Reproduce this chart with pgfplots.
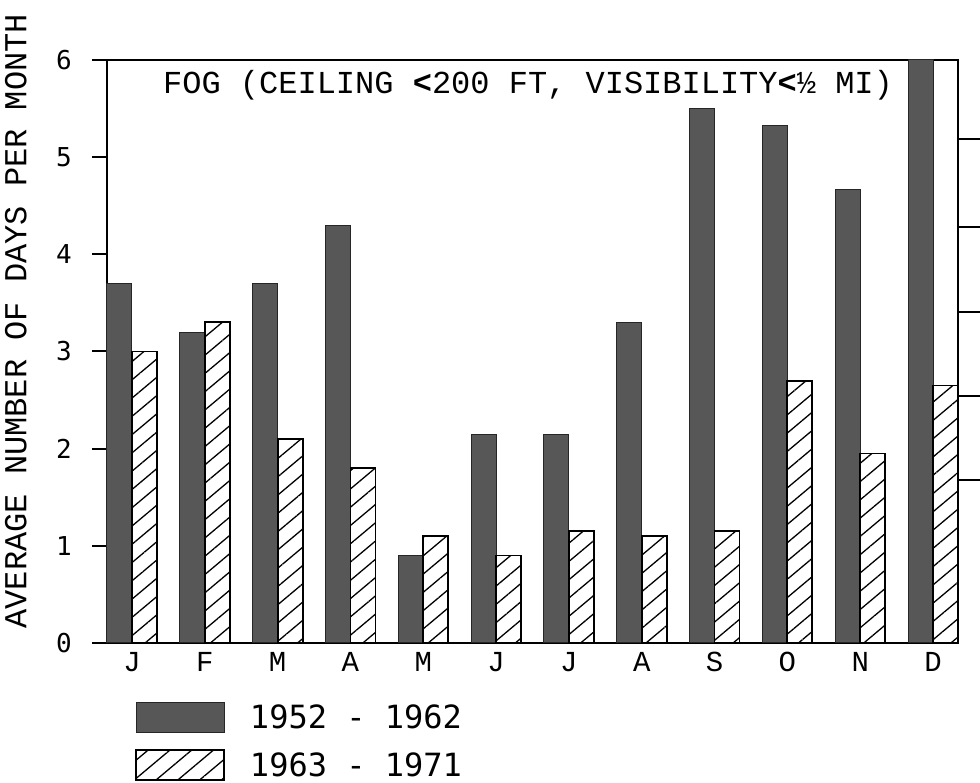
\documentclass[border=0pt]{standalone}
\usepackage{fontspec}
\setmainfont{Liberation Mono}
\newfontfamily\lettering{DejaVu Sans Mono}
\usepackage{pgfplots}
\pgfplotsset{compat=1.18}
\usetikzlibrary{patterns.meta}

\definecolor{speckle}{gray}{0.34}

\begin{document}
\begin{tikzpicture}[x=1pt,y=1pt]
\useasboundingbox (-107,-140) rectangle (873,643);
\begin{axis}[
  at={(0,0)}, anchor=south west,
  scale only axis, width=851pt, height=583pt,
  ymin=0, ymax=6, xmin=-0.343, xmax=11.343,
  clip=false,
  ybar, bar width=0.343,
  ytick={0,...,6}, ytick pos=left,
  xtick={0,...,11},
  xticklabels={J,F,M,A,M,J,J,A,S,O,N,D},
  xtick style={draw=none},
  tick align=outside, major tick length=15pt,
  tick style={line width=2pt, black},
  axis line style={line width=2pt},
  /pgf/number format/assume math mode=true,
  yticklabel style={font=\lettering\fontsize{26}{26}\selectfont, anchor=east, inner sep=0pt, xshift=-20pt},
  xticklabel style={font=\fontsize{29}{29}\selectfont, anchor=north, inner sep=0pt, yshift=6pt},
  ylabel={AVERAGE NUMBER OF DAYS PER MONTH},
  ylabel style={font=\fontsize{32}{32}\selectfont, at={(axis description cs:-0.107,0.552)}, anchor=center},
  legend image code/.code={\draw[#1] (0pt,-15pt) rectangle (88pt,15pt);},
  legend style={at={(axis description cs:0.0329,-0.1012)}, anchor=north west,
    draw=none, fill=none, inner sep=0pt, row sep=16pt, column sep=25pt,
    font=\lettering\fontsize{32}{32}\selectfont, nodes={inner sep=0pt, anchor=west}},
  legend cell align=left,
]
% 1952 - 1962
\addplot[draw=black!85, line width=1pt, fill=speckle, bar shift=-0.1715] coordinates {
  (0,3.7) (1,3.2) (2,3.7) (3,4.3) (4,0.9) (5,2.15)
  (6,2.15) (7,3.3) (8,5.5) (9,5.33) (10,4.67) (11,6.0)
};
% 1963 - 1971
\addplot[draw=black, line width=1.8pt, pattern={Lines[angle=40,distance=14pt,line width=1.3pt]}, pattern color=black, bar shift=0.1715] coordinates {
  (0,3.0) (1,3.3) (2,2.1) (3,1.8) (4,1.1) (5,0.9)
  (6,1.15) (7,1.1) (8,1.15) (9,2.7) (10,1.95) (11,2.65)
};
\legend{1952 - 1962, 1963 - 1971}
\node[anchor=west, inner sep=0pt, font=\fontsize{32}{32}\selectfont]
  at (axis description cs:0.0658,0.957)
  {FOG (CEILING {\bfseries<}200 FT, VISIBILITY{\bfseries<}½ MI)};
\end{axis}
% ticks on the right-hand side
\begin{axis}[
  at={(0,0)}, anchor=south west,
  scale only axis, width=851pt, height=583pt,
  ymin=0, ymax=6, xmin=0, xmax=1,
  hide x axis, axis y line*=right,
  ytick={1.68,2.54,3.41,4.28,5.19}, yticklabels={},
  tick align=outside, major tick length=25pt,
  tick style={line width=2pt, black},
  axis line style={line width=2pt},
]
\end{axis}
\end{tikzpicture}
\end{document}
